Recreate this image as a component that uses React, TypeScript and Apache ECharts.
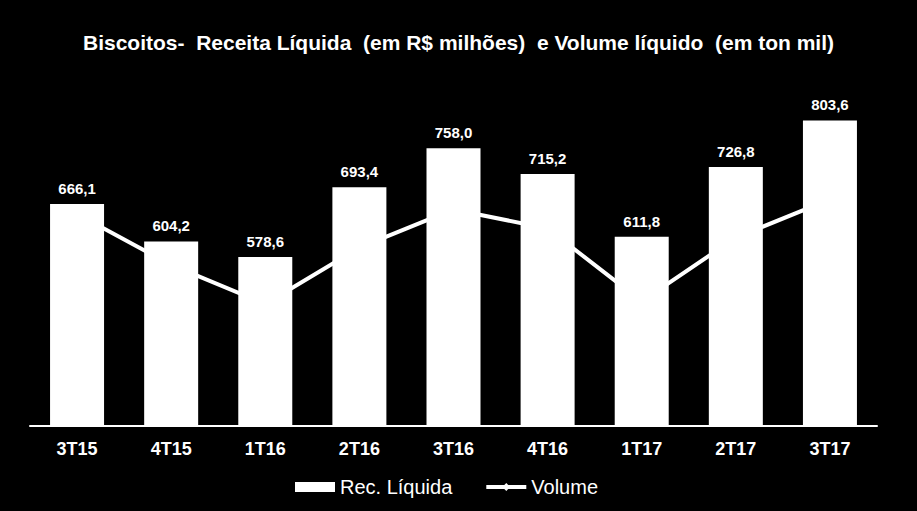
import React, { useEffect, useRef } from "react";
import * as echarts from "echarts";

const categories = ["3T15", "4T15", "1T16", "2T16", "3T16", "4T16", "1T17", "2T17", "3T17"];
const receita = [666.1, 604.2, 578.6, 693.4, 758.0, 715.2, 611.8, 726.8, 803.6];
const volume = [116.5, 88.5, 67.0, 98.0, 119.0, 108.5, 68.5, 103.5, 124.5];
const titleText = "Biscoitos-  Receita Líquida  (em R$ milhões)  e Volume líquido  (em ton mil)";

const fmt = (v: number) => v.toFixed(1).replace(".", ",");

export default function App() {
  const ref = useRef<HTMLDivElement>(null);
  useEffect(() => {
    if (!ref.current) return;
    const chart = echarts.init(ref.current, null, { renderer: "svg" });
    const font = "'Liberation Sans', Arial, sans-serif";
    chart.setOption({
      animation: false,
      backgroundColor: "#000000",
      title: {
        text: titleText,
        left: "center",
        top: 27,
        textStyle: { color: "#ffffff", fontSize: 21, fontWeight: "bold", fontFamily: font },
      },
      legend: {
        bottom: 9,
        left: 290,
        itemWidth: 40,
        itemHeight: 10,
        itemGap: 32,
        textStyle: { color: "#ffffff", fontSize: 20, fontFamily: font },
        data: [
          { name: "Rec. Líquida", icon: "rect" },
          { name: "Volume", lineStyle: { width: 4, color: "#ffffff" } },
        ],
      },
      grid: { left: 30, right: 40, top: 62, bottom: 85, containLabel: false },
      xAxis: {
        type: "category",
        data: categories,
        axisLine: { show: true, lineStyle: { color: "#ffffff", width: 2 } },
        axisTick: { show: false },
        axisLabel: {
          color: "#ffffff",
          fontSize: 18,
          fontWeight: "bold",
          fontFamily: font,
          margin: 14,
        },
      },
      yAxis: [
        { type: "value", min: 300, max: 900, show: false, splitLine: { show: false } },
        { type: "value", min: 0, max: 200, show: false, splitLine: { show: false } },
      ],
      series: [
        {
          name: "Rec. Líquida",
          type: "bar",
          data: receita,
          barWidth: 54,
          z: 3,
          itemStyle: { color: "#ffffff" },
          label: {
            show: true,
            position: "top",
            distance: 8,
            color: "#ffffff",
            fontSize: 15,
            fontWeight: "bold",
            fontFamily: font,
            formatter: (p: any) => fmt(p.value),
          },
        },
        {
          name: "Volume",
          type: "line",
          yAxisIndex: 1,
          data: volume,
          z: 1,
          symbol: "diamond",
          symbolSize: 10,
          showSymbol: false,
          lineStyle: { color: "#ffffff", width: 4 },
          itemStyle: { color: "#ffffff" },
        },
      ],
    });
    return () => chart.dispose();
  }, []);
  return (
    <div
      ref={ref}
      style={{ position: "fixed", left: 0, top: 0, width: 917, height: 511, background: "#000" }}
    />
  );
}
